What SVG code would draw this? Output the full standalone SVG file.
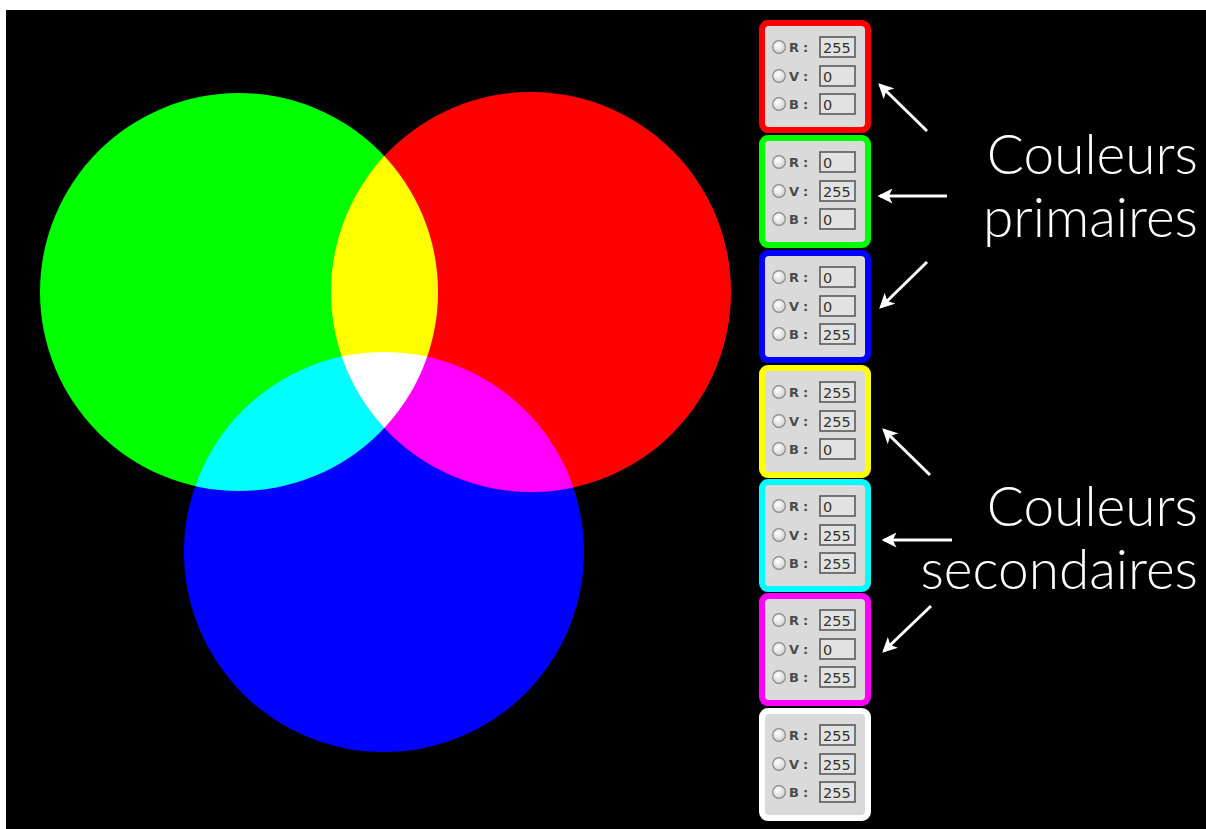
<svg xmlns="http://www.w3.org/2000/svg" width="1206" height="829" viewBox="0 0 1206 829">
  <defs>
    <style>
      .lbl { font-family: "DejaVu Sans", sans-serif; font-size: 13px; font-weight: bold; fill: #4a4a4a; }
      .val { font-family: "DejaVu Sans", sans-serif; font-size: 14.5px; fill: #333; }
      .vbox { fill: #e2e2e2; stroke: #5a5a5a; stroke-width: 1.6; }
      .radio { fill: url(#radioFill); stroke: #8a8a8a; stroke-width: 1.2; }
      .inner { fill: #dadada; }
      .caption { font-family: Lato, "Open Sans", sans-serif; font-weight: 300; font-size: 55px; fill: #ffffff; text-anchor: end; }
      .arrow { stroke: #ffffff; stroke-width: 3; fill: none; marker-end: url(#head); }
      .light { mix-blend-mode: screen; }
    </style>
    <radialGradient id="radioFill" cx="0.4" cy="0.35" r="0.7">
      <stop offset="0" stop-color="#ffffff"/>
      <stop offset="1" stop-color="#cfcfcf"/>
    </radialGradient>
    <marker id="head" viewBox="0 0 12 12" refX="10" refY="6" markerWidth="5" markerHeight="5" orient="auto" markerUnits="strokeWidth">
      <path d="M0,0 L12,6 L0,12 L3,6 Z" fill="#ffffff"/>
    </marker>
    <!-- one RGB control panel, positioned per node -->
    <g id="panelBody">
      <rect class="inner" x="765" y="6" width="100" height="101" rx="4"/>
      <circle class="radio" cx="779" cy="27" r="6.3"/>
      <text class="lbl" x="789" y="32">R</text>
      <text class="lbl" x="803" y="32">:</text>
      <circle class="radio" cx="779" cy="56" r="6.3"/>
      <text class="lbl" x="789" y="61">V</text>
      <text class="lbl" x="803" y="61">:</text>
      <circle class="radio" cx="779" cy="84" r="6.3"/>
      <text class="lbl" x="789" y="89">B</text>
      <text class="lbl" x="803" y="89">:</text>
      <rect class="vbox" x="820" y="17" width="35" height="20"/>
      <rect class="vbox" x="820" y="46" width="35" height="20"/>
      <rect class="vbox" x="820" y="74" width="35" height="20"/>
    </g>
  </defs>

  <!-- page and black backdrop -->
  <rect x="0" y="0" width="1206" height="829" fill="#ffffff"/>
  <rect x="6" y="10" width="1200" height="819" fill="#000000"/>

  <!-- additive light circles -->
  <g id="circles" style="isolation:isolate">
    <rect x="6" y="10" width="740" height="819" fill="#000000"/>
    <circle id="circle-green" class="light" cx="239" cy="292" r="199" fill="#00ff00"/>
    <circle id="circle-red" class="light" cx="531" cy="292" r="200" fill="#ff0000"/>
    <circle id="circle-blue" class="light" cx="384" cy="552" r="200" fill="#0000ff"/>
  </g>

  <!-- control panels -->
  <g id="panel-red" transform="translate(0,20)">
    <rect x="759" y="0" width="112" height="113" rx="9" fill="#ff0000"/>
    <use href="#panelBody"/>
    <text class="val" x="823" y="33">255</text>
    <text class="val" x="823" y="62">0</text>
    <text class="val" x="823" y="90">0</text>
  </g>
  <g id="panel-green" transform="translate(0,135)">
    <rect x="759" y="0" width="112" height="113" rx="9" fill="#00ff00"/>
    <use href="#panelBody"/>
    <text class="val" x="823" y="33">0</text>
    <text class="val" x="823" y="62">255</text>
    <text class="val" x="823" y="90">0</text>
  </g>
  <g id="panel-blue" transform="translate(0,250)">
    <rect x="759" y="0" width="112" height="113" rx="9" fill="#0000ff"/>
    <use href="#panelBody"/>
    <text class="val" x="823" y="33">0</text>
    <text class="val" x="823" y="62">0</text>
    <text class="val" x="823" y="90">255</text>
  </g>
  <g id="panel-yellow" transform="translate(0,365)">
    <rect x="759" y="0" width="112" height="113" rx="9" fill="#ffff00"/>
    <use href="#panelBody"/>
    <text class="val" x="823" y="33">255</text>
    <text class="val" x="823" y="62">255</text>
    <text class="val" x="823" y="90">0</text>
  </g>
  <g id="panel-cyan" transform="translate(0,479)">
    <rect x="759" y="0" width="112" height="113" rx="9" fill="#00ffff"/>
    <use href="#panelBody"/>
    <text class="val" x="823" y="33">0</text>
    <text class="val" x="823" y="62">255</text>
    <text class="val" x="823" y="90">255</text>
  </g>
  <g id="panel-magenta" transform="translate(0,593)">
    <rect x="759" y="0" width="112" height="113" rx="9" fill="#ff00ff"/>
    <use href="#panelBody"/>
    <text class="val" x="823" y="33">255</text>
    <text class="val" x="823" y="62">0</text>
    <text class="val" x="823" y="90">255</text>
  </g>
  <g id="panel-white" transform="translate(0,708)">
    <rect x="759" y="0" width="112" height="113" rx="9" fill="#ffffff"/>
    <use href="#panelBody"/>
    <text class="val" x="823" y="33">255</text>
    <text class="val" x="823" y="62">255</text>
    <text class="val" x="823" y="90">255</text>
  </g>

  <!-- captions -->
  <g id="label-primary">
    <text class="caption" x="1198" y="174">Couleurs</text>
    <text class="caption" x="1198" y="237">primaires</text>
  </g>
  <g id="label-secondary">
    <text class="caption" x="1198" y="526">Couleurs</text>
    <text class="caption" x="1198" y="589">secondaires</text>
  </g>

  <!-- connectors -->
  <g id="connectors">
    <line class="arrow" x1="927" y1="131" x2="880" y2="85"/>
    <line class="arrow" x1="947" y1="196" x2="880" y2="196"/>
    <line class="arrow" x1="927" y1="262" x2="881" y2="307"/>
    <line class="arrow" x1="930" y1="475" x2="884" y2="430"/>
    <line class="arrow" x1="952" y1="540" x2="884" y2="540"/>
    <line class="arrow" x1="931" y1="606" x2="884" y2="651"/>
  </g>
</svg>
